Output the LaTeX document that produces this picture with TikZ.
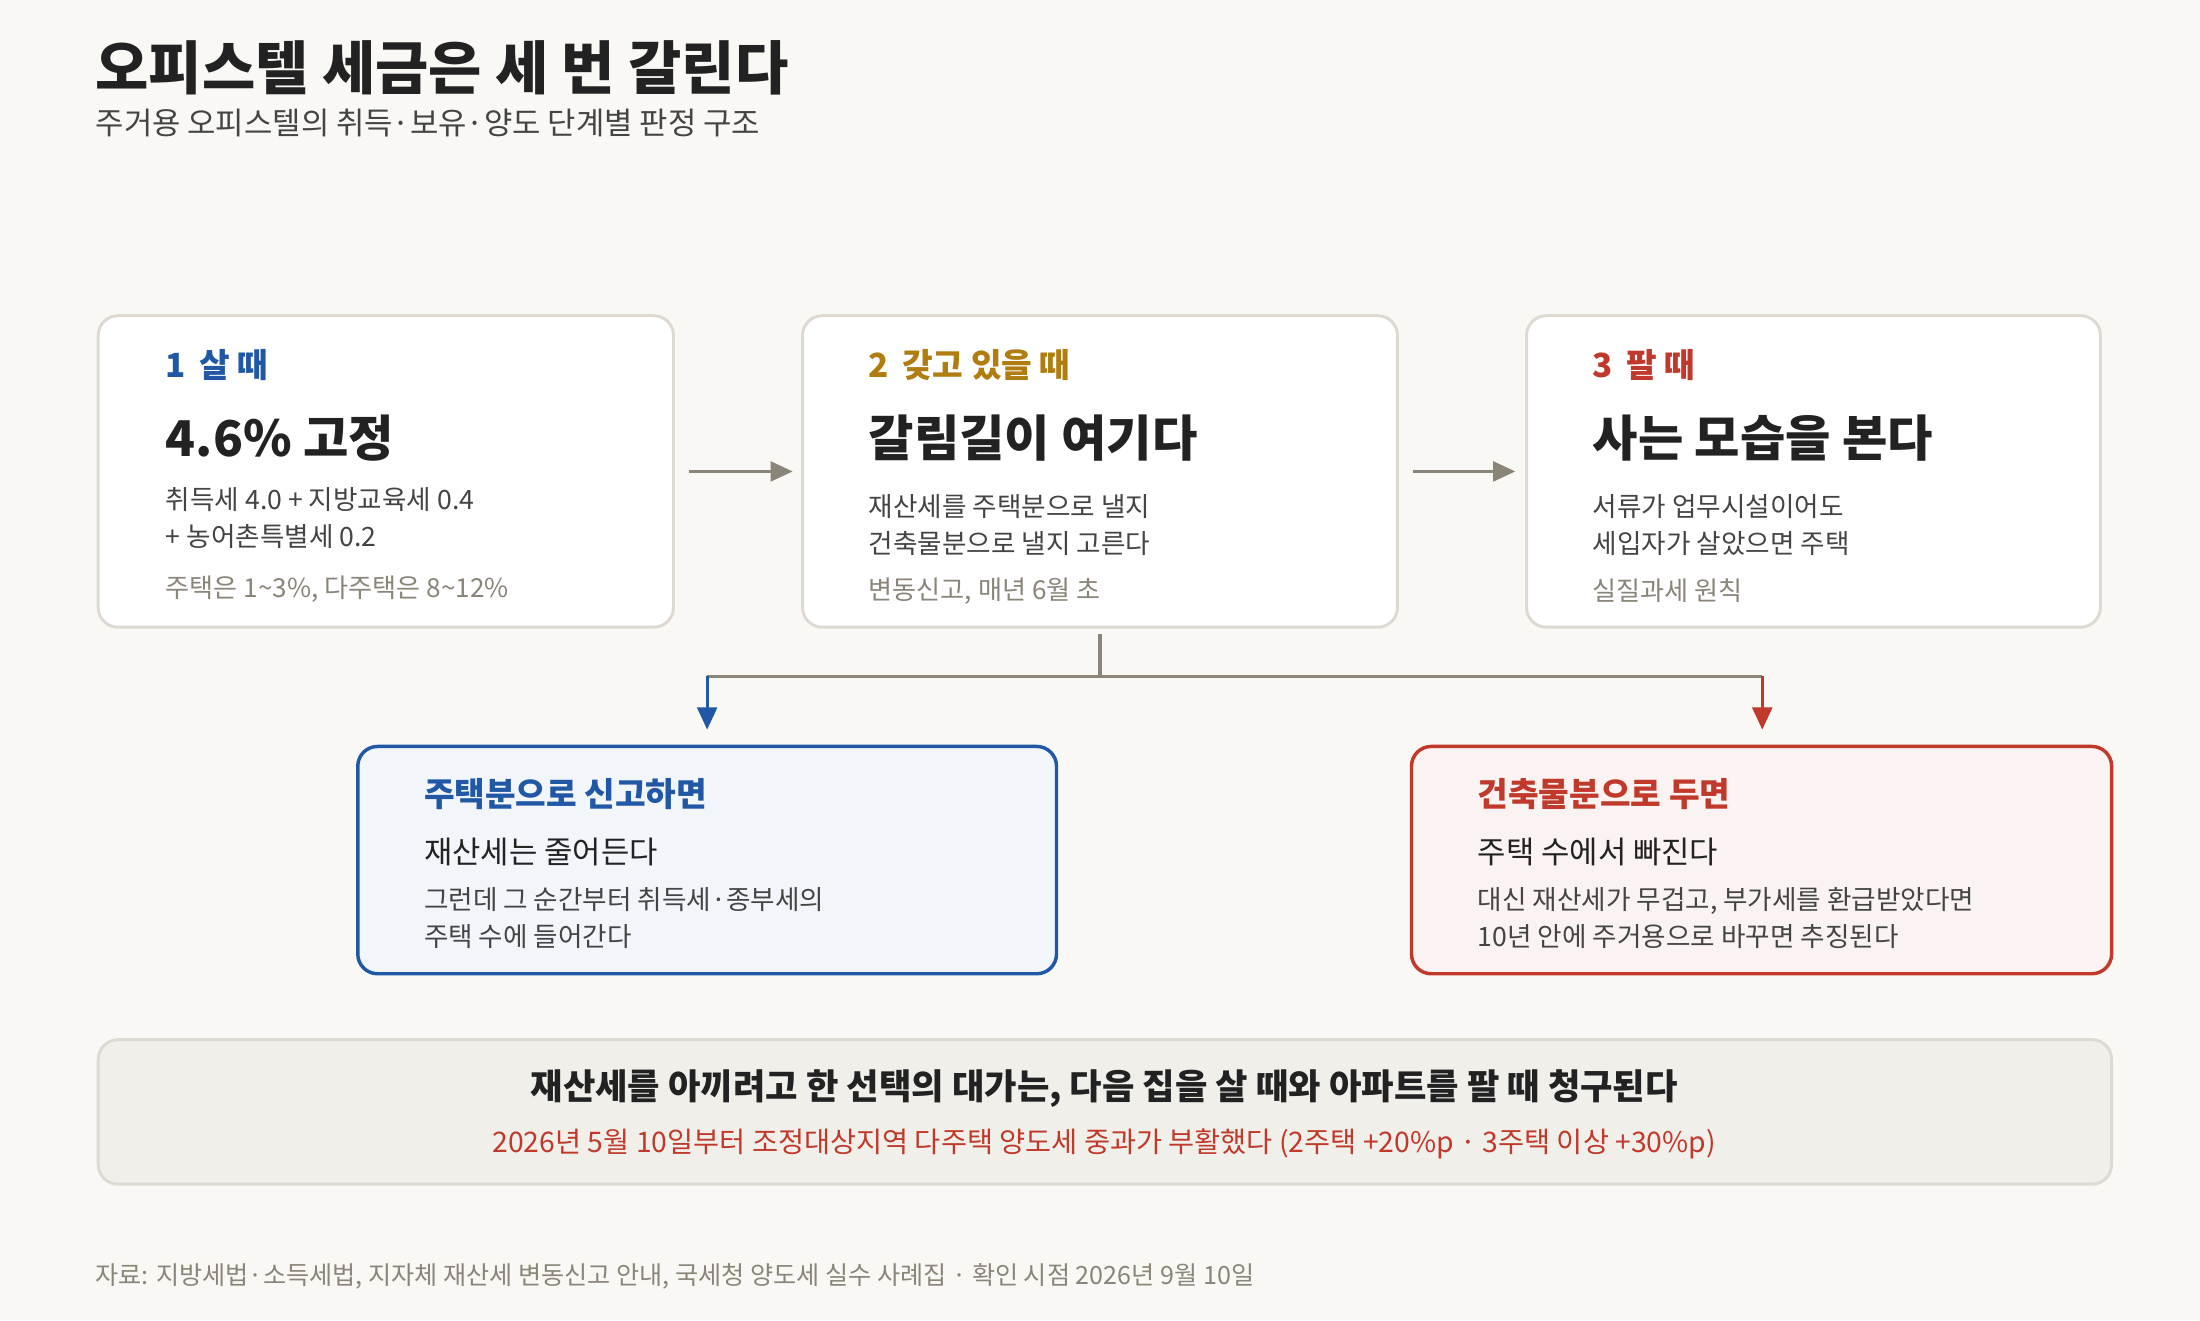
\documentclass[tikz,border=0pt]{standalone}
\usepackage{fontspec}
\setmainfont{Noto Sans CJK KR}
\usetikzlibrary{arrows.meta,positioning,calc}
\definecolor{bg}{HTML}{F9F8F4}
\definecolor{edge}{HTML}{DEDAD2}
\definecolor{ink}{HTML}{222222}
\definecolor{body}{HTML}{444444}
\definecolor{note}{HTML}{8A8578}
\definecolor{myblue}{HTML}{2158A5}
\definecolor{mygold}{HTML}{B07D10}
\definecolor{myred}{HTML}{C0392B}
\tikzset{
  card/.style={draw=edge, line width=1.2pt, fill=white, rounded corners=8pt},
  tag/.style={anchor=west, font=\fontsize{13.5}{16}\selectfont\bfseries},
  head/.style={anchor=west, font=\fontsize{20}{24}\selectfont\bfseries, text=ink},
  txt/.style={anchor=west, font=\fontsize{10.8}{15}\selectfont, text=body, align=left},
  nt/.style={anchor=west, font=\fontsize{10.6}{13}\selectfont, text=note},
  flow/.style={-{Triangle[length=9pt,width=8pt]}, line width=1.3pt, draw=note}
}
\begin{document}
\begin{tikzpicture}[x=0.02cm,y=-0.02cm]
\fill[bg] (0,0) rectangle (1568,941);
\useasboundingbox (0,0) rectangle (1568,941);

% title
\node[anchor=west, font=\fontsize{23.5}{28}\selectfont\bfseries, text=ink] (title) at (62,48) {오피스텔 세금은 세 번 갈린다};
\node[anchor=west, font=\fontsize{12.5}{15}\selectfont, text=body] (sub) at (62,88) {주거용 오피스텔의 취득·보유·양도 단계별 판정 구조};

% stage cards
\draw[card] (70,225) rectangle (480,447);
\draw[card] (572,225) rectangle (996,447);
\draw[card] (1088,225) rectangle (1497,447);

\node[tag, text=myblue] (buy) at (112,260) {1\, 살 때};
\node[head] (buyh) at (112,312) {4.6\% 고정};
\node[txt] (buyt) at (112,369) {취득세 4.0 + 지방교육세 0.4\\+ 농어촌특별세 0.2};
\node[nt] (buyn) at (112,420) {주택은 1\textasciitilde3\%, 다주택은 8\textasciitilde12\%};

\node[tag, text=mygold] (hold) at (613,260) {2\, 갖고 있을 때};
\node[head] (holdh) at (613,312) {갈림길이 여기다};
\node[txt] (holdt) at (613,374) {재산세를 주택분으로 낼지\\건축물분으로 낼지 고른다};
\node[nt] (holdn) at (613,421) {변동신고, 매년 6월 초};

\node[tag, text=myred] (sell) at (1129,260) {3\, 팔 때};
\node[head] (sellh) at (1129,312) {사는 모습을 본다};
\node[txt] (sellt) at (1129,374) {서류가 업무시설이어도\\세입자가 살았으면 주택};
\node[nt] (selln) at (1129,421) {실질과세 원칙};

% arrows between cards
\coordinate (a1) at (491,336); \coordinate (a2) at (565,336);
\coordinate (b1) at (1007,336); \coordinate (b2) at (1080,336);
\draw[flow] (a1) -- (a2);
\draw[flow] (b1) -- (b2);

% branch
\coordinate (top) at (784,452);
\coordinate (mid) at (784,482);
\coordinate (lt) at (504,482); \coordinate (ltb) at (504,520);
\coordinate (rt) at (1256,482); \coordinate (rtb) at (1256,520);
\draw[line width=1.3pt, note] (top) -- (mid);
\draw[line width=1.3pt, note] (lt) -- (rt);
\draw[flow, draw=myblue, fill=myblue] (lt) -- (ltb);
\draw[flow, draw=myred, fill=myred] (rt) -- (rtb);

% option cards
\draw[draw=myblue, fill=myblue!6, line width=1.4pt, rounded corners=8pt] (255,532) rectangle (753,694);
\node[tag, text=myblue] (opt1) at (296,566) {주택분으로 신고하면};
\node[txt, text=ink, font=\fontsize{12.5}{15}\selectfont] (opt1h) at (296,607) {재산세는 줄어든다};
\node[txt] (opt1t) at (296,654) {그런데 그 순간부터 취득세·종부세의\\주택 수에 들어간다};

\draw[draw=myred, fill=myred!6, line width=1.4pt, rounded corners=8pt] (1006,532) rectangle (1505,694);
\node[tag, text=myred] (opt2) at (1047,566) {건축물분으로 두면};
\node[txt, text=ink, font=\fontsize{12.5}{15}\selectfont] (opt2h) at (1047,607) {주택 수에서 빠진다};
\node[txt] (opt2t) at (1047,654) {대신 재산세가 무겁고, 부가세를 환급받았다면\\10년 안에 주거용으로 바꾸면 추징된다};

% bottom note
\draw[draw=edge, fill=edge!30!bg, line width=1.2pt, rounded corners=8pt] (70,741) rectangle (1505,844);
\node[font=\fontsize{14.3}{17}\selectfont\bfseries, text=ink] (sum) at (787,776) {재산세를 아끼려고 한 선택의 대가는, 다음 집을 살 때와 아파트를 팔 때 청구된다};
\node[font=\fontsize{11.5}{14}\selectfont, text=myred] (sumn) at (787,815) {2026년 5월 10일부터 조정대상지역 다주택 양도세 중과가 부활했다 (2주택 +20\%p · 3주택 이상 +30\%p)};

% source
\node[nt, font=\fontsize{10.2}{12}\selectfont] (src) at (62,910) {자료: 지방세법·소득세법, 지자체 재산세 변동신고 안내, 국세청 양도세 실수 사례집 · 확인 시점 2026년 9월 10일};
\end{tikzpicture}
\end{document}
